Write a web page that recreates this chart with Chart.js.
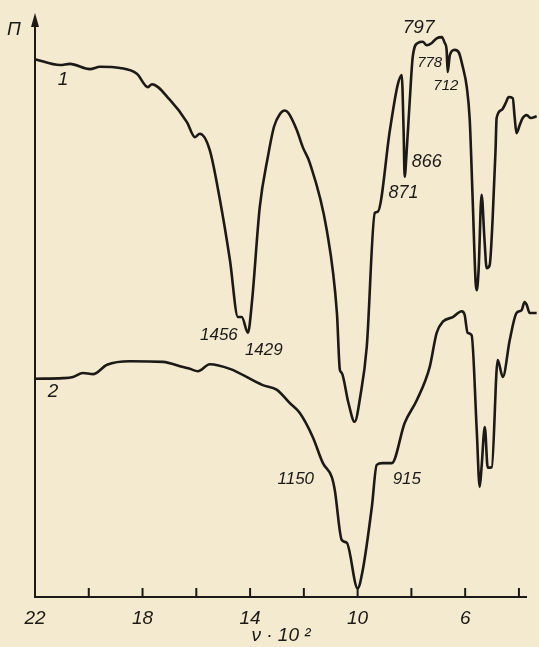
<!DOCTYPE html>
<html>
<head>
<meta charset="utf-8">
<script src="https://cdn.jsdelivr.net/npm/chart.js@4.4.1/dist/chart.umd.min.js"></script>
<style>
  body { margin: 0; background: #f3ead0; }
  #wrap { width: 539px; height: 647px; }
</style>
</head>
<body>
<div id="wrap"><canvas id="chart" width="539" height="647"></canvas></div>
<script>
// wavenumber (cm-1) and transmission, curve 1
var nu1 = [2200, 2107, 2070, 1996, 1958, 1884, 1821, 1780, 1765, 1698, 1635, 1605, 1587, 1550, 1512, 1475,
    1445, 1431, 1408, 1393, 1364, 1334, 1311, 1289, 1271, 1258, 1226, 1204, 1178, 1115, 1077, 1066, 1059, 1035,
    1011, 990, 966, 936, 925, 880, 851, 836, 829, 825, 818, 806, 795, 776, 758, 743, 724, 706, 687, 676, 669,
    665, 657, 639, 624, 609, 594, 583, 572, 561, 557, 550, 539, 528, 520, 509, 498, 487, 483, 464, 449, 438,
    423, 416, 409, 397, 386, 371, 356, 334];
var t1 = [92.4, 91.4, 91.6, 90.7, 91.1, 90.9, 89.9, 87.6, 88.1, 85.4, 81.6, 79.0, 79.6, 76.8, 68.2, 57.9,
    48.1, 48.1, 45.4, 50.7, 67.0, 75.6, 80.8, 83.0, 83.6, 83.2, 80.2, 77.3, 74.6, 63.1, 48.8, 39.0, 38.5, 33.5,
    30.1, 34.5, 43.0, 66.0, 66.2, 80.2, 88.0, 89.7, 80.2, 72.2, 76.3, 85.4, 92.8, 95.2, 95.4, 94.8, 95.2, 96.0,
    96.2, 95.2, 94.0, 90.2, 93.1, 94.0, 93.6, 91.1, 87.6, 82.0, 68.2, 54.0, 52.7, 56.2, 69.1, 61.3, 56.5, 57.0,
    64.8, 76.8, 82.3, 83.7, 84.9, 85.9, 85.7, 82.5, 79.7, 81.1, 82.3, 82.8, 82.3, 82.6];

// curve 2
var nu2 = [2200, 2096, 2059, 2022, 1984, 1932, 1847, 1724, 1650, 1624, 1594, 1550, 1475, 1353, 1300, 1252,
    1215, 1167, 1129, 1096, 1085, 1059, 1040, 1000, 981, 947, 929, 907, 873, 825, 780, 732, 706, 683, 646,
    613, 602, 591, 576, 557, 546, 539, 527, 516, 501, 479, 460, 434, 409, 390, 379, 371, 360, 334];
var t2 = [37.5, 37.6, 37.8, 38.5, 38.3, 39.9, 40.5, 40.4, 39.5, 39.2, 38.8, 40.0, 39.2, 36.4, 35.6, 33.3,
    31.6, 27.5, 23.0, 20.6, 18.4, 9.8, 9.3, 1.5, 4.6, 15.5, 22.7, 23.0, 23.0, 29.9, 33.8, 39.5, 45.4, 47.3,
    48.1, 49.1, 48.5, 45.4, 45.0, 28.7, 18.9, 22.3, 29.2, 22.2, 22.3, 40.7, 37.8, 44.2, 48.8, 49.3, 50.7,
    50.2, 48.8, 48.8];

// x axis ticks (cm-1) and the labelled ones
var tickVals = [2200, 2000, 1800, 1600, 1400, 1200, 1000, 800, 600, 400];
var tickLabels = ['22', '', '18', '', '14', '', '10', '', '6', ''];

// band labels: text, wavenumber, transmission
var bandText = ['1456', '1429', '797', '778', '712', '866', '871', '1150', '915', '1', '2'];
var bandNu = [1516, 1349, 773, 732, 672, 743, 829, 1230, 817, 2096, 2133];
var bandT = [45.0, 42.4, 97.9, 91.8, 87.8, 74.7, 69.5, 20.3, 20.3, 88.8, 35.2];
var bandSize = [17, 17, 19, 15, 15, 18, 18, 17, 17, 19, 19];

function pts(xs, ys) {
    return xs.map(function (x, i) { return { x: x, y: ys[i] }; });
}

var ink = '#1b1a17';
var hand = '"Liberation Sans", "DejaVu Sans", sans-serif';

const drawing = {
    id: 'drawing',
    afterDraw: function (chart) {
        const c = chart.ctx;
        const a = chart.chartArea;
        const xs = chart.scales.x;
        const ys = chart.scales.y;
        c.save();
        c.strokeStyle = ink;
        c.fillStyle = ink;
        c.lineWidth = 2;
        // axes
        c.beginPath();
        c.moveTo(a.left, a.top + 2);
        c.lineTo(a.left, a.bottom);
        c.lineTo(a.right, a.bottom);
        c.stroke();
        // arrow on the y axis
        c.beginPath();
        c.moveTo(a.left, a.top - 2);
        c.lineTo(a.left - 4, a.top + 12);
        c.lineTo(a.left + 4, a.top + 12);
        c.closePath();
        c.fill();
        // tick marks pointing inward
        tickVals.forEach(function (v) {
            const px = xs.getPixelForValue(v);
            c.beginPath();
            c.moveTo(px, a.bottom);
            c.lineTo(px, a.bottom - 9);
            c.stroke();
        });
        // y axis symbol
        c.font = 'italic 19px ' + hand;
        c.textAlign = 'center';
        c.textBaseline = 'middle';
        c.fillText('П', a.left - 21, a.top + 15);
        // band labels
        bandText.forEach(function (t, i) {
            c.font = 'italic ' + bandSize[i] + 'px ' + hand;
            c.fillText(t, xs.getPixelForValue(bandNu[i]), ys.getPixelForValue(bandT[i]));
        });
        c.restore();
    }
};

const ctx = document.getElementById('chart').getContext('2d');
const spectrum = new Chart(ctx, {
    type: 'line',
    data: {
        datasets: [{
            label: '1',
            data: pts(nu1, t1),
            borderColor: ink,
            borderWidth: 2.6,
            pointRadius: 0,
            cubicInterpolationMode: 'monotone',
            clip: false
        }, {
            label: '2',
            data: pts(nu2, t2),
            borderColor: ink,
            borderWidth: 2.6,
            pointRadius: 0,
            cubicInterpolationMode: 'monotone',
            clip: false
        }]
    },
    options: {
        responsive: false,
        animation: false,
        layout: { padding: { left: 35, top: 15, right: 12, bottom: 0 } },
        plugins: {
            legend: { display: false },
            tooltip: { enabled: false }
        },
        scales: {
            x: {
                type: 'linear',
                reverse: true,
                min: 370,
                max: 2200,
                grid: { display: false, drawTicks: false },
                border: { display: false },
                afterBuildTicks: function (scale) {
                    scale.ticks = tickVals.map(function (v) { return { value: v }; });
                },
                afterFit: function (scale) {
                    scale.height = 50;
                },
                ticks: {
                    autoSkip: false,
                    maxRotation: 0,
                    padding: 10,
                    color: ink,
                    font: { family: hand, size: 19, style: 'italic' },
                    callback: function (v) {
                        const i = tickVals.indexOf(v);
                        return i < 0 ? '' : tickLabels[i];
                    }
                },
                title: {
                    display: true,
                    text: 'ν · 10 ²',
                    color: ink,
                    font: { family: hand, size: 19, style: 'italic' },
                    padding: { top: 0, bottom: 0 }
                }
            },
            y: {
                display: false,
                min: 0,
                max: 100
            }
        }
    },
    plugins: [drawing]
});
</script>
</body>
</html>
